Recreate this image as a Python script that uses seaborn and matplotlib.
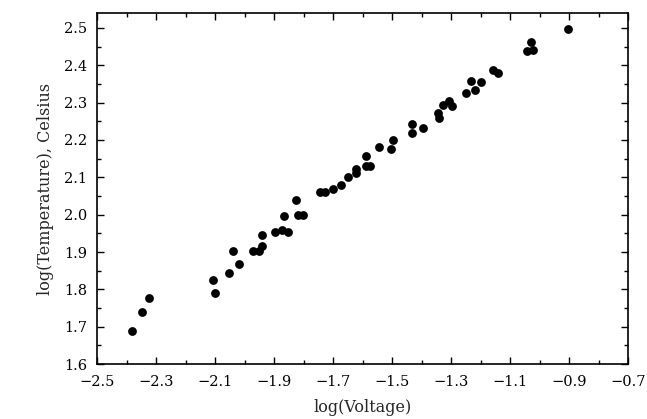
import numpy as np
import pandas as pd
import seaborn as sns
import matplotlib.pyplot as plt
from matplotlib.ticker import MultipleLocator, FixedLocator, FuncFormatter

# log(Voltage) and log(Temperature) readings
log_voltage = [
    -2.382, -2.347, -2.323, -2.108, -2.102, -2.053, -2.019, -2.039, -1.972, -1.950,
    -1.942, -1.942, -1.896, -1.874, -1.852, -1.865, -1.826, -1.818, -1.801, -1.744,
    -1.729, -1.702, -1.673, -1.650, -1.623, -1.622, -1.588, -1.575, -1.588, -1.546,
    -1.503, -1.498, -1.433, -1.433, -1.396, -1.346, -1.340, -1.328, -1.306, -1.296,
    -1.250, -1.232, -1.219, -1.198, -1.157, -1.140, -1.043, -1.023, -1.029, -0.904,
]
log_temp = [
    1.689, 1.739, 1.776, 1.824, 1.791, 1.844, 1.868, 1.903, 1.903, 1.903,
    1.916, 1.945, 1.954, 1.959, 1.954, 1.997, 2.039, 2.000, 2.000, 2.060,
    2.060, 2.069, 2.079, 2.101, 2.111, 2.122, 2.131, 2.131, 2.158, 2.180,
    2.176, 2.200, 2.218, 2.243, 2.231, 2.272, 2.258, 2.294, 2.305, 2.292,
    2.327, 2.357, 2.333, 2.354, 2.388, 2.379, 2.439, 2.442, 2.462, 2.498,
]
x_ticks = [-2.5, -2.3, -2.1, -1.9, -1.7, -1.5, -1.3, -1.1, -0.9, -0.7]

df = pd.DataFrame({'log(Voltage)': log_voltage, 'log(Temperature)': log_temp})

sns.set_style('ticks')
plt.rcParams['font.family'] = ['DejaVu Serif']

fig = plt.figure(figsize=(6.47, 4.19), dpi=100)
ax = fig.add_axes([0.150, 0.131, 0.821, 0.838])

sns.scatterplot(data=df, x='log(Voltage)', y='log(Temperature)', ax=ax,
                color='black', s=40, edgecolor='black', linewidth=0)

ax.set_xlim(-2.5, -0.7)
ax.set_ylim(1.6, 2.54)
ax.xaxis.set_major_locator(FixedLocator(x_ticks))
ax.xaxis.set_minor_locator(MultipleLocator(0.1))
ax.yaxis.set_major_locator(MultipleLocator(0.1))
ax.yaxis.set_minor_locator(MultipleLocator(0.05))
fmt = FuncFormatter(lambda v, p: f'{v:.1f}'.replace('-', '\u2212'))
ax.xaxis.set_major_formatter(fmt)
ax.yaxis.set_major_formatter(fmt)

ax.tick_params(which='both', direction='in', top=True, right=True,
               labelsize=10.5, colors='black')
ax.tick_params(which='major', length=5, width=1)
ax.tick_params(which='minor', length=3, width=1)
ax.tick_params(axis='x', which='major', pad=8)
ax.tick_params(axis='y', which='major', pad=7)
for sp in ax.spines.values():
    sp.set_visible(True)
    sp.set_linewidth(1.2)
    sp.set_color('black')

ax.set_xlabel('log(Voltage)', fontsize=11.5, labelpad=7)
ax.set_ylabel('log(Temperature), Celsius', fontsize=11.5, labelpad=7)

fig.savefig('out.png', dpi=100)
